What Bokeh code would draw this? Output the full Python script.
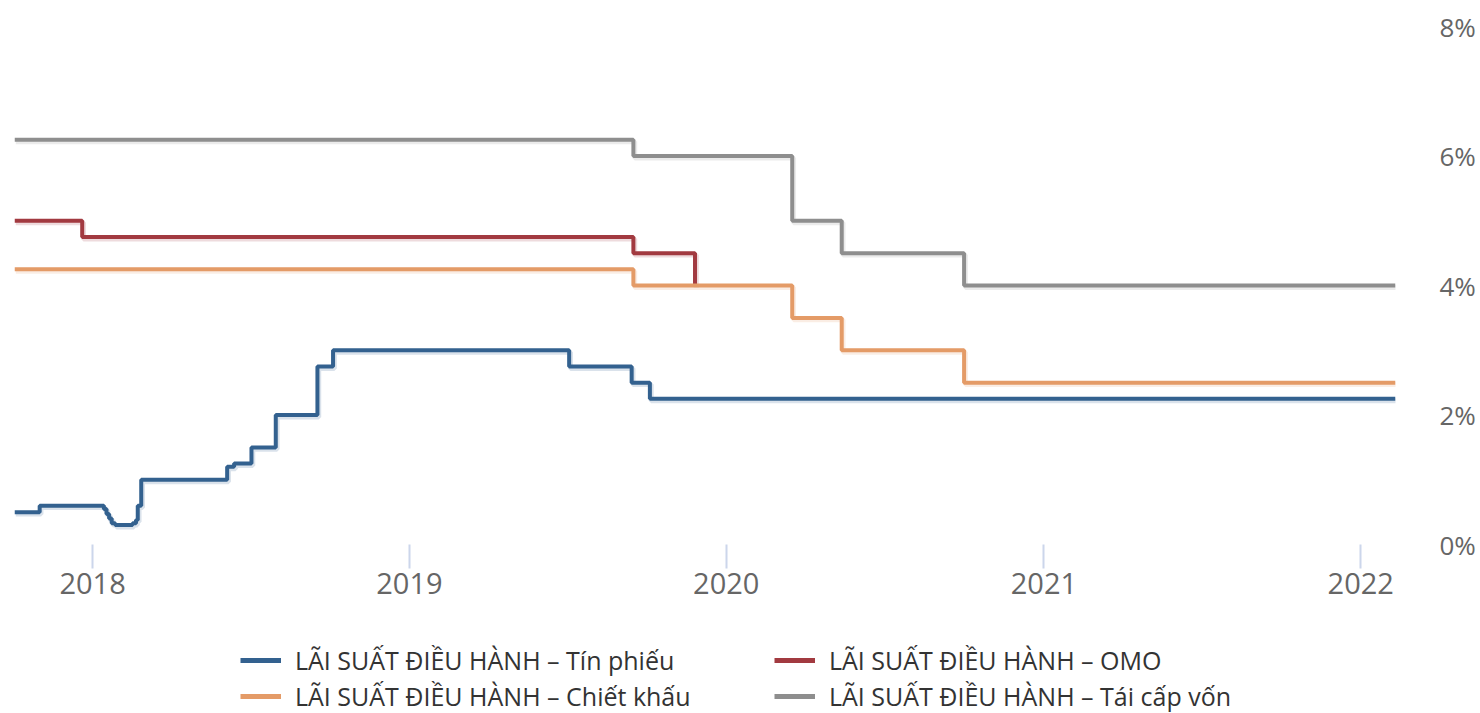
import pandas as pd
from bokeh.plotting import figure
from bokeh.layouts import column
from bokeh.models import (ColumnDataSource, Legend, LegendItem, Range1d, DatetimeTickFormatter,
                          FixedTicker, CustomJSTickFormatter)
from bokeh.transform import dodge
from bokeh.embed import file_html
from bokeh.resources import INLINE

# ---- data ----
tin_dates = ["2017-10-03", "2017-11-01", "2018-01-14", "2018-01-17", "2018-01-20", "2018-01-23",
             "2018-01-27", "2018-02-16", "2018-02-20", "2018-02-22", "2018-02-26", "2018-06-05",
             "2018-06-13", "2018-07-03", "2018-07-31", "2018-09-17", "2018-10-05", "2019-07-04",
             "2019-09-14", "2019-10-05", "2022-02-10"]
tin_values = [0.5, 0.6, 0.55, 0.47, 0.40, 0.33, 0.30, 0.33, 0.38, 0.6, 1.0, 1.2,
              1.25, 1.5, 2.0, 2.75, 3.0, 2.75, 2.5, 2.25, 2.25]

omo_dates = ["2017-10-03", "2017-12-20", "2019-09-16", "2019-11-26"]
omo_values = [5.0, 4.75, 4.5, 4.0]

ck_dates = ["2017-10-03", "2019-09-16", "2020-03-17", "2020-05-13", "2020-10-01", "2022-02-10"]
ck_values = [4.25, 4.0, 3.5, 3.0, 2.5, 2.5]

tcv_dates = ["2017-10-03", "2019-09-16", "2020-03-17", "2020-05-13", "2020-10-01", "2022-02-10"]
tcv_values = [6.25, 6.0, 5.0, 4.5, 4.0, 4.0]

names = ["LÃI SUẤT ĐIỀU HÀNH – Tín phiếu", "LÃI SUẤT ĐIỀU HÀNH – OMO",
         "LÃI SUẤT ĐIỀU HÀNH – Chiết khấu", "LÃI SUẤT ĐIỀU HÀNH – Tái cấp vốn"]
colors = ["#33618F", "#A23A40", "#E49B67", "#8E8E8E"]

x_start, x_end = "2017-10-03", "2022-02-10"
year_ticks = ["2018-01-01", "2019-01-01", "2020-01-01", "2021-01-01", "2022-01-01"]
y_ticks = [0, 2, 4, 6, 8]

FONT = "Open Sans"

# ---- main chart ----
p = figure(width=1478, height=620, x_axis_type="datetime",
           y_axis_location="right", output_backend="svg", toolbar_location=None,
           min_border_left=14, min_border_top=26, min_border_right=76, min_border_bottom=76,
           x_range=Range1d(pd.Timestamp(x_start), pd.Timestamp(x_end)),
           y_range=Range1d(0, 8))
p.outline_line_color = None
p.background_fill_color = "white"
p.border_fill_color = "white"
p.grid.grid_line_color = None

# ---- legend strip (separate figure, data kept outside its visible ranges) ----
lg = figure(width=1478, height=93, output_backend="svg", toolbar_location=None,
            x_axis_location=None, y_axis_location=None,
            min_border_left=0, min_border_right=0, min_border_top=0, min_border_bottom=0,
            x_range=Range1d(0, 1), y_range=Range1d(-20, -19))
lg.outline_line_color = None
lg.grid.grid_line_color = None
lg.background_fill_color = "white"
lg.border_fill_color = "white"

series = [(tin_dates, tin_values), (omo_dates, omo_values), (ck_dates, ck_values), (tcv_dates, tcv_values)]
items = []
for (d, v), name, c in zip(series, names, colors):
    src = ColumnDataSource(dict(x=pd.to_datetime(d), y=v))
    p.step(x=dodge("x", 1.5 * 86400000, range=p.x_range), y=dodge("y", -0.03, range=p.y_range),
           source=src, mode="after", line_color=c, line_alpha=0.18, line_width=5)
    p.step(x="x", y="y", source=src, mode="after", line_color=c, line_width=4)
    r = lg.step(x="x", y="y", source=src, mode="after", line_color=c, line_width=5)
    items.append(LegendItem(label=name, renderers=[r]))

# x axis
xa = p.xaxis[0]
xa.ticker = FixedTicker(ticks=[pd.Timestamp(t).value / 1e6 for t in year_ticks])
xa.formatter = DatetimeTickFormatter(years="%Y", months="%Y", days="%Y")
xa.axis_line_color = None
xa.major_tick_line_color = "#ccd6eb"
xa.major_tick_line_width = 2
xa.major_tick_out = 24
xa.major_tick_in = 0
xa.minor_tick_line_color = None
xa.major_label_standoff = 4
xa.major_label_text_font = FONT
xa.major_label_text_font_size = "29px"
xa.major_label_text_color = "#666666"

# y axis
ya = p.yaxis[0]
ya.ticker = FixedTicker(ticks=y_ticks)
ya.formatter = CustomJSTickFormatter(code="return tick + '%';")
ya.axis_line_color = None
ya.major_tick_line_color = None
ya.minor_tick_line_color = None
ya.major_label_standoff = 38
ya.major_label_text_font = FONT
ya.major_label_text_font_size = "26px"
ya.major_label_text_color = "#666666"

# legend: column-major fill -> rows read (Tín phiếu, OMO), (Chiết khấu, Tái cấp vốn)
legend = Legend(items=[items[0], items[2], items[1], items[3]], ncols=2, location=(226, 0),
                glyph_width=41, glyph_height=20, label_standoff=14, label_width=477,
                label_text_font=FONT, label_text_font_size="25px", label_text_color="#333333",
                label_height=34, spacing=2, padding=0, margin=0, border_line_color=None,
                background_fill_alpha=0)
lg.add_layout(legend, "center")

layout = column(p, lg, spacing=0)
open("out.html", "w").write(file_html(layout, INLINE))
